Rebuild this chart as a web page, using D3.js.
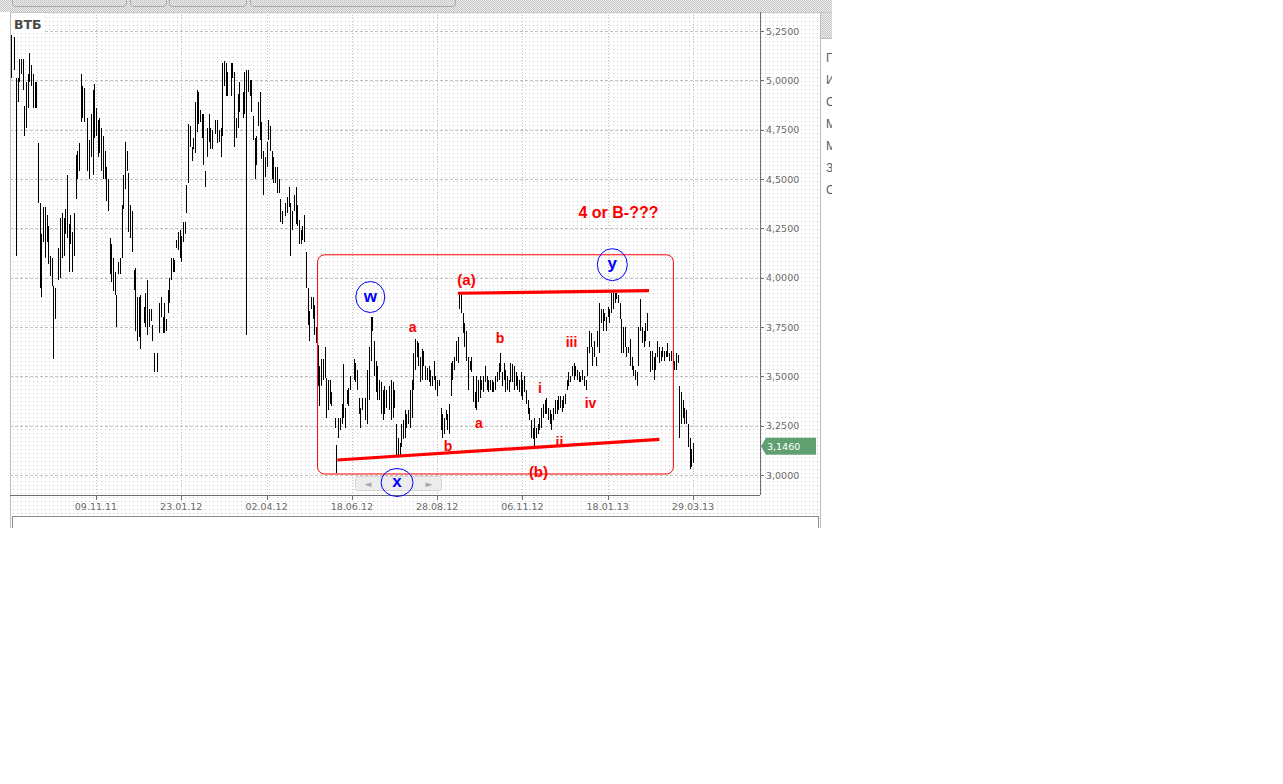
<!DOCTYPE html>
<html><head><meta charset="utf-8">
<script src="https://cdn.jsdelivr.net/npm/d3@7"></script>
<style>html,body{margin:0;padding:0;background:#fff;overflow:hidden}</style>
</head><body><svg id="c" width="1283" height="784"></svg>
<script>
// ---------------- DATA ----------------
const title = "ВТБ";
// daily bars, trading-day index 0..400 (null = no bar read)
const highs = [
5.23,null,5.22,5.01,5.01,5.11,5.11,5.11,4.87,4.99,
5.03,5.14,5.08,5.03,4.99,4.99,4.68,4.38,4.22,4.36,
4.36,4.32,4.26,4.11,4.10,3.96,3.95,null,4.15,4.30,
4.33,4.30,4.35,4.52,4.27,4.32,4.23,4.33,4.62,4.64,
4.68,5.03,4.97,4.96,null,4.81,4.70,4.83,4.95,4.98,
4.86,4.80,4.81,4.76,4.72,4.64,4.56,4.50,4.20,4.17,
4.10,4.03,3.91,4.08,4.10,4.37,4.52,4.69,4.64,4.53,
4.37,4.34,4.04,4.05,3.90,3.90,3.91,null,3.85,3.92,
3.99,3.84,3.84,3.76,3.62,null,3.62,3.87,3.90,3.80,
3.87,3.79,3.94,4.00,4.10,4.10,4.09,4.19,4.23,4.24,
4.21,4.28,4.28,4.47,4.78,4.77,4.66,4.71,4.89,4.95,
4.94,4.85,4.83,4.83,4.54,4.76,4.83,4.76,4.75,null,
4.80,4.80,4.75,4.76,5.09,5.10,5.09,5.04,null,5.09,
5.09,5.04,4.81,4.93,4.99,null,4.94,5.04,5.05,5.05,
5.00,5.00,4.82,4.71,4.72,4.89,4.94,4.79,4.64,4.61,
4.69,4.80,4.77,4.64,4.61,4.56,4.56,4.50,4.40,4.34,
null,4.38,4.41,4.46,4.38,4.34,4.42,4.46,4.37,4.29,
4.24,4.26,4.32,4.13,3.95,3.83,3.90,3.90,3.86,3.75,
3.66,3.55,3.59,3.59,3.65,3.49,3.48,3.48,3.42,null,
3.29,3.15,3.29,3.29,3.36,3.56,3.34,3.43,3.44,3.50,
null,3.59,3.57,3.53,3.39,3.34,3.39,null,3.39,3.53,
3.65,3.80,3.80,3.68,3.58,3.55,3.48,3.47,3.43,3.45,
3.43,null,3.45,3.48,3.47,3.43,3.26,3.19,3.16,3.26,
3.28,3.33,3.31,3.33,3.43,3.48,3.62,3.69,3.68,3.67,
3.60,3.64,3.63,3.55,3.54,3.55,3.53,3.50,3.58,3.50,
3.48,3.48,3.34,3.31,3.29,3.33,3.31,3.36,3.57,3.58,
3.60,3.68,3.70,3.92,3.92,3.82,3.77,3.73,3.60,3.58,
3.60,3.50,3.42,3.50,3.48,3.50,3.48,3.50,3.55,3.50,
3.48,3.48,3.48,3.47,3.50,3.52,3.57,3.62,3.52,3.57,
3.53,3.50,3.48,3.57,3.56,3.55,3.52,3.50,3.48,3.52,
3.48,3.50,3.43,3.38,3.34,3.28,3.24,3.29,3.24,3.26,
3.29,3.34,3.36,3.38,3.39,3.34,3.33,3.31,3.34,3.38,
3.38,3.40,3.40,3.38,3.40,3.41,3.48,3.52,3.50,3.55,
3.57,3.55,3.53,3.52,3.50,3.53,3.50,3.48,3.65,3.73,
3.72,3.65,3.68,3.60,3.73,3.87,3.84,3.84,3.82,3.80,
3.85,3.84,3.92,3.94,3.92,3.92,3.91,3.87,3.79,3.75,
3.75,3.65,3.65,3.69,3.60,3.55,3.53,3.52,3.75,3.89,
3.75,3.73,3.77,3.82,3.68,3.63,3.63,3.60,3.62,3.68,
3.65,3.63,3.65,3.63,3.63,3.67,3.62,3.63,3.62,3.58,
3.62,3.61,3.45,3.42,3.38,3.34,3.33,3.26,3.19,3.13,3.16
];
const lows = [
5.01,null,5.05,4.11,4.89,4.99,5.03,4.95,4.72,4.76,
4.86,4.99,4.97,4.86,4.86,4.86,4.38,3.95,3.90,4.18,
4.10,4.18,4.07,4.01,3.96,3.59,3.79,null,3.99,4.00,
4.10,4.11,4.22,4.20,4.03,4.17,4.03,4.11,4.40,4.50,
4.54,4.79,4.81,4.79,null,4.54,4.50,4.61,4.52,4.71,
4.72,4.61,4.63,4.54,4.50,4.50,4.39,4.34,4.02,3.98,
3.93,3.91,3.75,4.02,4.02,4.10,4.35,4.45,4.54,4.23,
4.20,4.13,3.94,3.73,3.68,3.70,3.64,null,3.77,3.75,
3.71,3.75,3.78,3.68,3.52,null,3.52,3.72,3.80,3.72,
3.72,3.73,3.82,3.87,3.99,4.03,4.03,4.15,4.14,4.10,
4.08,4.18,4.22,4.33,4.48,4.66,4.59,4.65,4.63,4.74,
4.78,4.79,4.71,4.57,4.46,4.61,4.69,4.65,4.65,null,
4.73,4.68,4.69,4.61,4.72,4.97,4.92,4.92,null,4.92,
5.01,4.66,4.71,4.76,4.84,null,4.81,4.83,3.71,4.94,
4.92,4.84,4.70,4.50,4.57,4.77,4.70,4.60,4.42,4.51,
4.56,4.70,4.64,4.50,4.48,4.48,4.43,4.43,4.28,4.27,
null,4.31,4.33,4.36,4.11,4.24,4.34,4.27,4.26,4.17,
4.17,4.19,4.18,3.95,3.76,3.68,3.84,3.79,3.71,3.67,
3.45,3.35,3.45,3.48,3.49,3.29,3.33,3.36,3.35,null,
3.24,3.01,3.19,3.23,3.26,3.29,3.24,3.36,3.35,3.43,
null,3.48,3.47,3.43,3.31,3.24,3.33,null,3.28,3.26,
3.38,3.58,3.73,3.50,3.42,3.38,3.38,3.31,3.28,3.31,
3.34,null,3.33,3.28,3.29,3.34,3.09,3.09,3.09,3.14,
3.18,3.19,3.24,3.26,3.24,3.29,3.43,3.53,3.60,3.55,
3.47,3.48,3.55,3.48,3.48,3.47,3.45,3.45,3.48,3.43,
3.40,3.45,3.23,3.19,3.21,3.28,3.23,3.21,3.40,3.48,
3.53,3.58,3.57,3.84,3.82,3.72,3.65,3.58,3.43,3.53,
3.52,3.37,3.34,3.33,3.37,3.39,3.43,3.42,3.47,3.43,
3.42,3.43,3.42,3.42,3.43,3.47,3.48,3.52,3.45,3.48,
3.42,3.43,3.42,3.47,3.47,3.43,3.45,3.43,3.42,3.40,
3.38,3.42,3.36,3.31,3.28,3.19,3.18,3.14,3.19,3.21,
3.23,3.24,3.29,3.31,3.31,3.28,3.26,3.23,3.28,3.31,
3.31,3.33,3.34,3.32,3.34,3.36,3.43,3.45,3.47,3.50,
3.48,3.50,3.48,3.47,3.47,3.48,3.45,3.43,3.50,3.62,
3.65,3.55,3.60,3.55,3.65,3.62,3.77,3.73,3.78,3.73,
3.80,3.77,3.82,3.84,3.87,3.89,3.87,3.79,3.62,3.62,
3.65,3.60,3.62,3.55,3.53,3.50,3.48,3.45,3.55,3.73,
3.67,3.65,3.68,3.73,3.65,3.52,3.53,3.48,3.53,3.60,
3.57,3.58,3.60,3.58,3.60,3.60,3.58,3.58,3.55,3.53,
3.53,3.57,3.19,3.26,3.29,3.26,3.26,3.14,3.03,3.04,3.06
];
const tickDays   = [50, 100, 150, 200, 250, 300, 350, 400];
const tickLabels = ["09.11.11","23.01.12","02.04.12","18.06.12","28.08.12","06.11.12","18.01.13","29.03.13"];
const priceTicks = [3.00, 3.25, 3.50, 3.75, 4.00, 4.25, 4.50, 4.75, 5.00, 5.25];
const lastPrice = 3.146;
// annotations in (trading day, price) coordinates
const boxDays = [179.9, 388.5];
const boxPrices = [3.005, 4.116];
const trendDays   = [[262.2, 374.2], [191.5, 380.3]];
const trendPrices = [[3.921, 3.934], [3.076, 3.181]];
const waveText   = ["4 or B-???", "(a)", "a", "b", "iii", "i", "iv", "a", "b", "ii", "(b)"];
const waveDays   = [356.3, 267.2, 235.6, 286.9, 328.8, 310.3, 339.9, 274.5, 256.4, 321.7, 309.4];
const wavePrices = [4.302, 3.963, 3.723, 3.671, 3.650, 3.417, 3.338, 3.237, 3.123, 3.144, 2.990];
const circleText   = ["w", "x", "y"];
const circleDays   = [210.8, 226.5, 352.7];
const circlePrices = [3.902, 2.962, 4.066];
const sideLetters = ["П","И","С","М","М","З","С"];

// ---------------- DRAW ----------------
const svg = d3.select("#c");
const W = 1283, H = 784;
svg.append("rect").attr("width", W).attr("height", H).attr("fill", "#fff");
const defs = svg.append("defs");
const pd = defs.append("pattern").attr("id","dots").attr("patternUnits","userSpaceOnUse")
  .attr("width",4).attr("height",4).attr("x",1).attr("y",1);
pd.append("rect").attr("width",1).attr("height",1).attr("fill","#c9c9c9");
const pc = defs.append("pattern").attr("id","chk").attr("patternUnits","userSpaceOnUse")
  .attr("width",2).attr("height",2);
pc.append("rect").attr("width",2).attr("height",2).attr("fill","#efefef");
pc.append("rect").attr("width",1).attr("height",1).attr("fill","#c4c4c4");
pc.append("rect").attr("x",1).attr("y",1).attr("width",1).attr("height",1).attr("fill","#c4c4c4");
defs.append("clipPath").attr("id","clipAll").append("rect").attr("x",0).attr("y",0).attr("width",832).attr("height",528);
defs.append("clipPath").attr("id","clipSide").append("rect").attr("x",820).attr("y",0).attr("width",12).attr("height",528);

const root = svg.append("g").attr("clip-path","url(#clipAll)");

// top toolbar strip
root.append("rect").attr("x",0).attr("y",0).attr("width",832).attr("height",12).attr("fill","url(#chk)");
[[12,114],[130,36],[169,77],[250,205]].forEach(([x,w]) => {
  root.append("rect").attr("x",x+0.5).attr("y",-6.5).attr("width",w).attr("height",13).attr("rx",3)
    .attr("fill","url(#chk)").attr("stroke","#a8a8a8");
});
// main panel background with dot texture
root.append("rect").attr("x",10).attr("y",12).attr("width",810).attr("height",520).attr("fill","#fff");
root.append("rect").attr("x",10).attr("y",12).attr("width",810).attr("height",520).attr("fill","url(#dots)");
// right side panel
root.append("rect").attr("x",820).attr("y",12).attr("width",12).attr("height",26).attr("fill","url(#chk)");
root.append("line").attr("x1",820).attr("x2",832).attr("y1",38.5).attr("y2",38.5).attr("stroke","#bdbdbd");
const side = root.append("g").attr("clip-path","url(#clipSide)");
sideLetters.forEach((t,i) => {
  side.append("text").attr("x",826).attr("y",62 + i*22).text(t)
    .attr("font-family","'Liberation Sans', Arial, sans-serif").attr("font-size",12).attr("fill","#5a5a6a");
});
// frame lines
root.append("line").attr("x1",10.5).attr("x2",10.5).attr("y1",12).attr("y2",528).attr("stroke","#bdbdbd");
root.append("line").attr("x1",10).attr("x2",832).attr("y1",12.5).attr("y2",12.5).attr("stroke","#c8c8c8");
root.append("line").attr("x1",820.5).attr("x2",820.5).attr("y1",12).attr("y2",528).attr("stroke","#bdbdbd");

// scales
const x = d3.scaleLinear().domain([0, 400]).range([10.7, 693.0]);
const y = d3.scaleLinear().domain([3.0, 5.25]).range([475, 31]);
const plotL = 10, plotR = 760, plotT = 12, plotB = 495;

// grid
root.append("g").selectAll("line").data(priceTicks).join("line")
  .attr("x1",plotL).attr("x2",plotR)
  .attr("y1",d => Math.round(y(d))+0.5).attr("y2",d => Math.round(y(d))+0.5)
  .attr("stroke","#c2c2c2").attr("stroke-dasharray","3,2");
root.append("g").selectAll("line").data(tickDays).join("line")
  .attr("x1",d => Math.round(x(d))+0.5).attr("x2",d => Math.round(x(d))+0.5)
  .attr("y1",plotT).attr("y2",plotB)
  .attr("stroke","#c6c6c6").attr("stroke-dasharray","1,2");

// title
root.append("rect").attr("x",11).attr("y",13).attr("width",34).attr("height",19).attr("fill","#fff");
root.append("text").attr("x",14).attr("y",29).text(title)
  .attr("font-family","'DejaVu Sans', Verdana, sans-serif").attr("font-weight","bold")
  .attr("font-size",12.5).attr("fill","#4a4a4a");

// bars
const bars = highs.map((h,i) => ({i, h, l: lows[i]})).filter(b => b.h != null && b.l != null);
root.append("g").selectAll("line").data(bars).join("line")
  .attr("x1",b => Math.round(x(b.i))+0.5).attr("x2",b => Math.round(x(b.i))+0.5)
  .attr("y1",b => Math.round(y(b.h))).attr("y2",b => Math.max(Math.round(y(b.l)), Math.round(y(b.h))+2))
  .attr("stroke","#000").attr("stroke-width",1).attr("shape-rendering","crispEdges");

// y axis
const axisFont = "'DejaVu Sans', Verdana, sans-serif";
root.append("line").attr("x1",plotR+0.5).attr("x2",plotR+0.5).attr("y1",plotT).attr("y2",plotB)
  .attr("stroke","#6e6e6e");
const ya = root.append("g");
ya.selectAll("line").data(priceTicks).join("line")
  .attr("x1",plotR).attr("x2",plotR+4)
  .attr("y1",d => Math.round(y(d))+0.5).attr("y2",d => Math.round(y(d))+0.5).attr("stroke","#6e6e6e");
ya.selectAll("text").data(priceTicks).join("text")
  .attr("x",plotR+6).attr("y",d => y(d)+3.5)
  .text(d => d3.format(".4f")(d).replace(".",","))
  .attr("font-family",axisFont).attr("font-size",9.5).attr("fill","#6a6a6a");

// x axis
root.append("line").attr("x1",plotL).attr("x2",plotR).attr("y1",plotB+0.5).attr("y2",plotB+0.5)
  .attr("stroke","#6e6e6e");
const xa = root.append("g");
xa.selectAll("line").data(tickDays).join("line")
  .attr("x1",d => Math.round(x(d))+0.5).attr("x2",d => Math.round(x(d))+0.5)
  .attr("y1",plotB).attr("y2",plotB+5).attr("stroke","#6e6e6e");
xa.selectAll("text").data(tickDays).join("text")
  .attr("x",d => x(d)).attr("y",plotB+15).attr("text-anchor","middle")
  .text((d,i) => tickLabels[i])
  .attr("font-family",axisFont).attr("font-size",9.5).attr("fill","#6a6a6a");

// bottom sub-panel
root.append("rect").attr("x",12.5).attr("y",516.5).attr("width",806).attr("height",30)
  .attr("fill","#fff").attr("stroke","#8c8c8c");

// last price label
const ly = y(lastPrice);
root.append("path")
  .attr("d",`M${plotR+1},${ly} L${plotR+6},${ly-8.5} L816,${ly-8.5} L816,${ly+8.5} L${plotR+6},${ly+8.5} Z`)
  .attr("fill","#5f9f70");
root.append("text").attr("x",plotR+7).attr("y",ly+3.8).text(d3.format(".4f")(lastPrice).replace(".",","))
  .attr("font-family",axisFont).attr("font-size",9.5).attr("fill","#fff");

// navigation widget
const nav = root.append("g");
nav.append("rect").attr("x",355.5).attr("y",476.5).attr("width",86).attr("height",14).attr("rx",2)
  .attr("fill","#ececec").attr("stroke","#d6d6d6");
nav.append("text").attr("x",368).attr("y",487).attr("text-anchor","middle").text("◄")
  .attr("font-size",9).attr("fill","#a8a8a8").attr("font-family",axisFont);
nav.append("text").attr("x",429).attr("y",487).attr("text-anchor","middle").text("►")
  .attr("font-size",9).attr("fill","#a8a8a8").attr("font-family",axisFont);

// annotations: rounded box
root.append("rect")
  .attr("x",x(boxDays[0])).attr("y",y(boxPrices[1]))
  .attr("width",x(boxDays[1]) - x(boxDays[0])).attr("height",y(boxPrices[0]) - y(boxPrices[1]))
  .attr("rx",7).attr("fill","none").attr("stroke","#ff0000").attr("stroke-width",1);
// trend lines
trendDays.forEach((dd,i) => {
  root.append("line").attr("x1",x(dd[0])).attr("x2",x(dd[1]))
    .attr("y1",y(trendPrices[i][0])).attr("y2",y(trendPrices[i][1]))
    .attr("stroke","#ff0000").attr("stroke-width",3.2);
});
// wave labels
const redFont = "'Liberation Sans', Arial, sans-serif";
waveText.forEach((t,i) => {
  const big = i === 0 ? 16 : (t.startsWith("(") ? 15 : 14);
  root.append("text").attr("x",x(waveDays[i])).attr("y",y(wavePrices[i]))
    .attr("text-anchor","middle").text(t)
    .attr("font-family",redFont).attr("font-weight","bold").attr("font-size",big).attr("fill","#ff0000");
});
// blue circles
const radii = [[14.5,15.5],[16,14],[15,16]];
circleText.forEach((t,i) => {
  const cx = x(circleDays[i]), cy = y(circlePrices[i]);
  root.append("ellipse").attr("cx",cx).attr("cy",cy).attr("rx",radii[i][0]).attr("ry",radii[i][1])
    .attr("fill","none").attr("stroke","#0000ff").attr("stroke-width",1);
  root.append("text").attr("x",cx).attr("y",cy + (t === "y" ? 4 : 5)).attr("text-anchor","middle").text(t)
    .attr("font-family",redFont).attr("font-weight","bold").attr("font-size",17).attr("fill","#0000ff");
});
</script></body></html>
